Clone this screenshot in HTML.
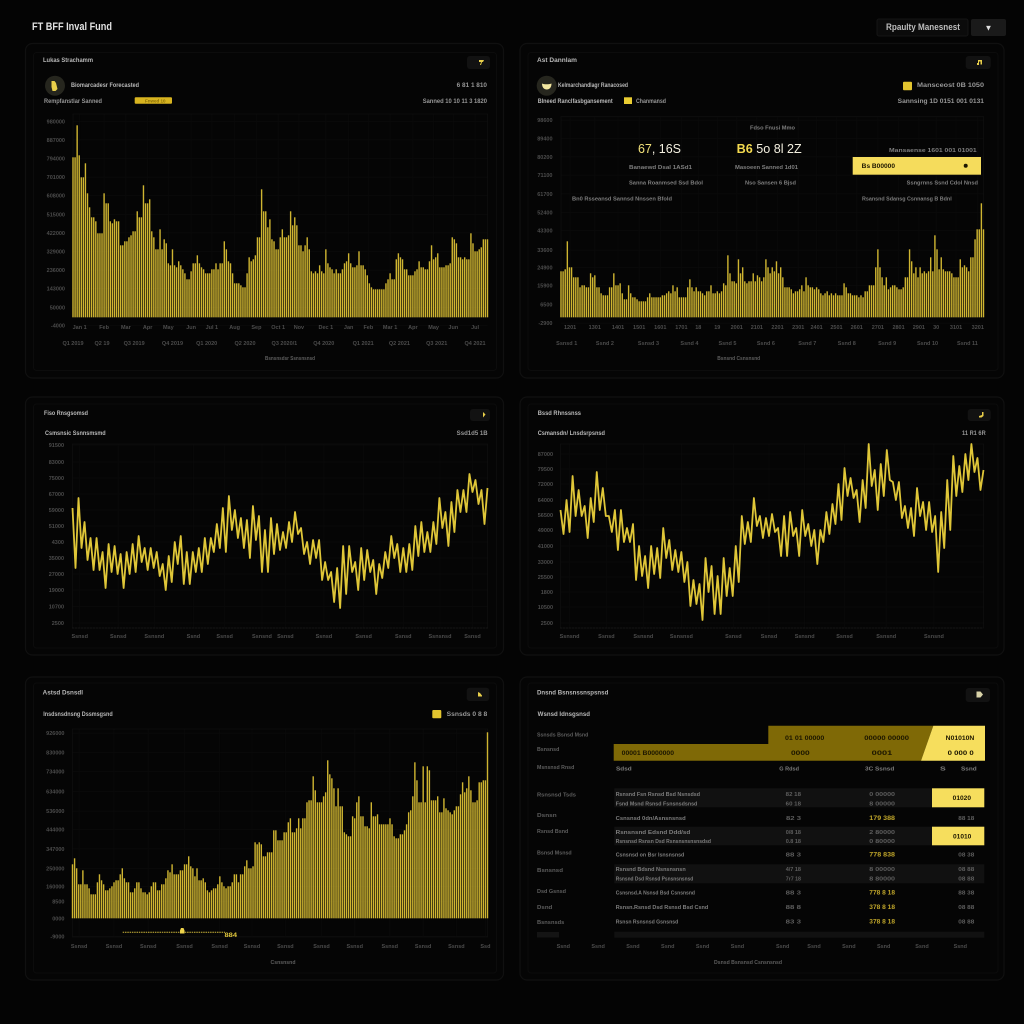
<!DOCTYPE html>
<html lang="en">
<head>
<meta charset="utf-8">
<title>FT BFF Inval Fund dashboard</title>
<style>
html,body{margin:0;padding:0;background:#040404;width:1024px;height:1024px;overflow:hidden}
svg{display:block;font-family:"Liberation Sans",sans-serif}
.panel-outer{fill:#050505;stroke:#101010;stroke-width:1.2}
.panel-inner{fill:#050505;stroke:#0c0c0c;stroke-width:1}
.btn{fill:#121212}
.t{font-size:6px;font-weight:700;fill:#b8b8b8}
.s{font-size:6px;font-weight:700;fill:#969696}
.d{font-size:5.5px;font-weight:700;fill:#7e7e7e}
.k{font-size:6px;font-weight:700;fill:#1c1600}
.y{font-size:6px;font-weight:700;fill:#bfa52a}
.ax{font-size:5.5px;font-weight:700;fill:#5e5e5e}
.tick{font-size:5.5px;fill:#4c4c4c;font-weight:700}
.gly{fill:#e9cf4a}
</style>
</head>
<body>
<svg id="dash" width="1024" height="1024" viewBox="0 0 1024 1024" xmlns="http://www.w3.org/2000/svg">
<rect width="1024" height="1024" fill="#040404"/>

<!-- header -->
<text x="32" y="30" font-size="11" font-weight="700" fill="#e2e2e2" textLength="80" lengthAdjust="spacingAndGlyphs">FT BFF Inval Fund</text>
<rect x="877" y="19" width="91" height="17" rx="2" fill="#0b0b0b" stroke="#151515"/>
<text x="886" y="30" font-size="9" font-weight="700" fill="#bdbdbd" textLength="74" lengthAdjust="spacingAndGlyphs">Rpaulty Manesnest</text>
<rect x="971" y="19" width="35" height="17" rx="2" fill="#1a1a1a"/>
<text x="988.5" y="30.5" font-size="8" text-anchor="middle" fill="#e0e0e0">▼</text>

<!-- panel frames -->
<g>
<rect class="panel-outer" x="25.5" y="43.5" width="478" height="334.5" rx="7"/>
<rect class="panel-inner" x="33.5" y="52.5" width="463" height="318" rx="3"/>
<rect class="panel-outer" x="520" y="43.5" width="484" height="334.5" rx="7"/>
<rect class="panel-inner" x="528" y="52.5" width="470" height="318" rx="3"/>
<rect class="panel-outer" x="25.5" y="397" width="478" height="258" rx="7"/>
<rect class="panel-inner" x="33.5" y="404" width="463" height="244" rx="3"/>
<rect class="panel-outer" x="520" y="397" width="484" height="258" rx="7"/>
<rect class="panel-inner" x="528" y="404" width="470" height="244" rx="3"/>
<rect class="panel-outer" x="25.5" y="677" width="478" height="303" rx="7"/>
<rect class="panel-inner" x="33.5" y="683" width="463" height="290" rx="3"/>
<rect class="panel-outer" x="520" y="677" width="484" height="303" rx="7"/>
<rect class="panel-inner" x="528" y="683" width="470" height="290" rx="3"/>
</g>

<!-- chart layers -->
<g id="chart-1"></g>
<g id="chart-2"></g>
<g id="chart-3"></g>
<g id="chart-4"></g>
<g id="chart-5"></g>
<text class="ax" x="290" y="360" text-anchor="middle" textLength="50" lengthAdjust="spacingAndGlyphs">Bsnsnsdsr Ssnsnsnsd</text>
<text class="ax" x="738.700" y="360" text-anchor="middle" textLength="43" lengthAdjust="spacingAndGlyphs">Bsnsnd Csnsnsnd</text>
<text class="ax" x="283" y="964" text-anchor="middle" textLength="25" lengthAdjust="spacingAndGlyphs">Csnsnsnd</text>

<!-- panel 1 chrome -->
<text class="t" x="43" y="62" textLength="50" lengthAdjust="spacingAndGlyphs">Lukas Strachamm</text>
<rect class="btn" x="467" y="56" width="23" height="13" rx="3"/>
<path class="gly" d="M479 60h5l-1 2h-1l-1 3h-1l1-3h-2z"/>
<circle cx="55" cy="85.7" r="10" fill="#26261e"/>
<path class="gly" d="M51.500 81h3l1.500 2 1.500 6-2 2h-3l-1-4z"/>
<text class="t" x="71" y="87" textLength="68" lengthAdjust="spacingAndGlyphs">Biomarcadesr Forecasted</text>
<text class="s" x="456.700" y="87" textLength="30.300" lengthAdjust="spacingAndGlyphs">6 81 1 810</text>
<text class="s" x="44" y="103" textLength="58" lengthAdjust="spacingAndGlyphs">Rempfanstlar Sanned</text>
<rect x="134.700" y="97.300" width="37.300" height="6.500" rx="1" fill="#d8b420"/>
<text x="145" y="102.500" font-size="4.500" font-weight="700" fill="#8a6f08">Fnwed 10</text>
<text class="s" x="422.700" y="103" textLength="64.300" lengthAdjust="spacingAndGlyphs">Sanned 10 10 11 3 1820</text>

<!-- panel 2 chrome -->
<text class="t" x="537" y="62" textLength="40" lengthAdjust="spacingAndGlyphs">Ast Dannlam</text>
<rect class="btn" x="965.700" y="56" width="25" height="13" rx="3"/>
<path class="gly" d="M978 60h4v4.500h-1.500v-3h-1.500v3.500h-2v-2h1z"/>
<circle cx="546.700" cy="85.700" r="10" fill="#26261e"/>
<path d="M542 83.500c2 1 7 1 9.500 0 0 4-2 6-4.700 6s-4.800-2-4.800-6z" fill="#f3e7a0"/>
<text class="t" x="558" y="87" textLength="70" lengthAdjust="spacingAndGlyphs">Kelmarchandlagr Ranacosed</text>
<rect x="903" y="81.700" width="9" height="8.500" rx="1" fill="#e3c52f"/>
<text class="s" x="917" y="87" textLength="67" lengthAdjust="spacingAndGlyphs">Mansceost 0B 1050</text>
<text class="t" x="537.700" y="103" textLength="75" lengthAdjust="spacingAndGlyphs">Blneed Ranclfasbgansement</text>
<rect x="624" y="97.300" width="8" height="6.700" fill="#eacd32"/>
<text class="s" x="636" y="103" textLength="30" lengthAdjust="spacingAndGlyphs">Chanmansd</text>
<text class="s" x="897.700" y="103" textLength="86.300" lengthAdjust="spacingAndGlyphs">Sannsing 1D 0151 001 0131</text>

<!-- panel 2 overlay text -->
<g>
<text class="d" x="750" y="129.500" textLength="45" lengthAdjust="spacingAndGlyphs">Fdso Fnusi Mmo</text>
<text x="638" y="153" font-size="12.500" font-weight="400" fill="#f4f0e0" textLength="43" lengthAdjust="spacingAndGlyphs"><tspan fill="#f3e27a">67</tspan>, 16S</text>
<text x="736.700" y="153" font-size="12.500" font-weight="400" fill="#f4f0e0" textLength="65" lengthAdjust="spacingAndGlyphs"><tspan fill="#f3d94f" font-weight="700">B6</tspan> 5o 8l 2Z</text>
<text class="d" x="889" y="152" textLength="87.700" lengthAdjust="spacingAndGlyphs">Mansaense 1601 001 01001</text>
<text class="d" x="629" y="169" textLength="63" lengthAdjust="spacingAndGlyphs">Banaewd Dsal 1ASd1</text>
<text class="d" x="735" y="169" textLength="63" lengthAdjust="spacingAndGlyphs">Masoeen Sanned 1d01</text>
<rect x="852.700" y="157" width="128.300" height="17.700" fill="#f5dc5c"/>
<text class="k" x="861.700" y="168" textLength="33.300" lengthAdjust="spacingAndGlyphs">Bs B00000</text>
<circle cx="965.700" cy="165.700" r="2" fill="#1c1600"/>
<text class="d" x="629" y="184.500" textLength="74" lengthAdjust="spacingAndGlyphs">Sanna Roanmsed Ssd Bdol</text>
<text class="d" x="745" y="184.500" textLength="51" lengthAdjust="spacingAndGlyphs">Nso Sansen 6 Bjsd</text>
<text class="d" x="906.700" y="184.500" textLength="71.300" lengthAdjust="spacingAndGlyphs">Ssngrnns Ssnd Cdol Nnsd</text>
<text class="d" x="572" y="200.500" textLength="100" lengthAdjust="spacingAndGlyphs">Bn0 Rsseansd Sannsd Nnssen Bfold</text>
<text class="d" x="862" y="200.500" textLength="89.700" lengthAdjust="spacingAndGlyphs">Rsansnd Sdansg Csnnansg B Bdnl</text>
</g>

<!-- panel 3 chrome -->
<text class="t" x="44" y="415" textLength="44" lengthAdjust="spacingAndGlyphs">Fiso Rnsgsomsd</text>
<rect class="btn" x="470" y="409" width="20" height="12" rx="3"/>
<path class="gly" d="M483 412l2.500 2.500-2.500 3z"/>
<text class="t" x="45" y="435" textLength="60.700" lengthAdjust="spacingAndGlyphs">Csmsnsic Ssnnsmsmd</text>
<text class="s" x="456.700" y="435" textLength="31" lengthAdjust="spacingAndGlyphs">Ssd1d5 1B</text>

<!-- panel 4 chrome -->
<text class="t" x="537.700" y="415" textLength="43.300" lengthAdjust="spacingAndGlyphs">Bssd Rhnssnss</text>
<rect class="btn" x="967.700" y="409" width="23" height="12" rx="3"/>
<path class="gly" d="M979 416l3-1v-3h1.500v4l-2 1.500h-2.500z"/>
<text class="t" x="537.700" y="435" textLength="67.300" lengthAdjust="spacingAndGlyphs">Csmansdn/ Lnsdsrpsnsd</text>
<text class="s" x="962" y="435" textLength="23.700" lengthAdjust="spacingAndGlyphs">11 R1 6R</text>

<!-- panel 5 chrome -->
<text class="t" x="42.700" y="694.500" textLength="40.300" lengthAdjust="spacingAndGlyphs">Astsd Dsnsdl</text>
<rect class="btn" x="466.700" y="687.700" width="22.600" height="13.300" rx="3"/>
<path class="gly" d="M478 692l2 1 2 2.500v1h-4z"/>
<text class="t" x="43.300" y="716" textLength="69.400" lengthAdjust="spacingAndGlyphs">Insdsnsdnsng Dssmsgsnd</text>
<rect x="432.300" y="710" width="9" height="8.300" rx="1" fill="#e3c52f"/>
<text class="s" x="446.700" y="716" textLength="40.600" lengthAdjust="spacingAndGlyphs">Ssnsds 0 8 8</text>
<g>
<line x1="122.700" x2="225" y1="932.300" y2="932.300" stroke="#cdb63a" stroke-width="1" stroke-dasharray="1.500 .8"/>
<path d="M180 933.500h4.500v-3l-1-2.500h-2.500l-1 2.500z" fill="#eed34b"/>
<text x="224.500" y="937" font-size="6" font-weight="700" fill="#e0c63c" textLength="12.500" lengthAdjust="spacingAndGlyphs">884</text>
</g>

<!-- panel 6 table -->
<g>
<text class="t" x="537" y="694.500" textLength="71.300" lengthAdjust="spacingAndGlyphs">Dnsnd Bsnsnssnspsnsd</text>
<rect class="btn" x="965.700" y="688" width="24.300" height="14" rx="3"/>
<path d="M976.500 691.500h4l2.500 3-2.500 3h-4z" fill="#d9d3a8"/>
<text class="t" x="537.700" y="716" textLength="52.300" lengthAdjust="spacingAndGlyphs">Wsnsd Idnsgsnsd</text>

<polygon points="613.700,744 768.300,744 768.300,725.700 933.300,725.700 921,760.700 613.700,760.700" fill="#7f6906"/>
<polygon points="933.300,725.700 985,725.700 985,760.700 921,760.700" fill="#f6de5d"/>

<rect x="614.300" y="788.300" width="317.700" height="19" fill="#111111"/>
<rect x="614.300" y="826.700" width="317.700" height="18.600" fill="#111111"/>
<rect x="614.300" y="864.300" width="370" height="19" fill="#111111"/>
<rect x="614.300" y="931.700" width="370" height="6" fill="#111111"/>
<rect x="932" y="788.300" width="52.300" height="19" fill="#f6de5d"/>
<rect x="932" y="826.700" width="52.300" height="18.600" fill="#f6de5d"/>
<rect x="537" y="932" width="22" height="5.500" fill="#141414"/>

<g>
<text class="k" x="785" y="740" textLength="39.300" lengthAdjust="spacingAndGlyphs">01 01 00000</text>
<text class="k" x="864.300" y="740" textLength="44.700" lengthAdjust="spacingAndGlyphs">00000 00000</text>
<text class="k" x="945.700" y="740" textLength="28.600" lengthAdjust="spacingAndGlyphs">N01010N</text>
<text class="k" x="621.700" y="755" textLength="52.300" lengthAdjust="spacingAndGlyphs">00001 B0000000</text>
<text class="k" x="791" y="755" textLength="18.700" lengthAdjust="spacingAndGlyphs">0000</text>
<text class="k" x="871.700" y="755" textLength="20.600" lengthAdjust="spacingAndGlyphs">0001</text>
<text class="k" x="947.700" y="755" textLength="26" lengthAdjust="spacingAndGlyphs">0 000 0</text>
<text class="d" x="616" y="770.500" textLength="15.700" lengthAdjust="spacingAndGlyphs">Sdsd</text>
<text class="d" x="779.300" y="770.500" textLength="19.700" lengthAdjust="spacingAndGlyphs">G Rdsd</text>
<text class="d" x="865" y="770.500" textLength="29.300" lengthAdjust="spacingAndGlyphs">3C Ssnsd</text>
<text class="d" x="940" y="770.500" textLength="5.700" lengthAdjust="spacingAndGlyphs">S</text>
<text class="d" x="961" y="770.500" textLength="15.700" lengthAdjust="spacingAndGlyphs">Ssnd</text>
</g>

<g>
<text class="ax" x="537" y="736.500" textLength="51.300" lengthAdjust="spacingAndGlyphs">Ssnsds Bsnsd Msnd</text>
<text class="ax" x="537" y="751" textLength="22.300" lengthAdjust="spacingAndGlyphs">Bsnsnsd</text>
<text class="ax" x="537" y="769" textLength="37.300" lengthAdjust="spacingAndGlyphs">Msnsnsd Rnsd</text>
<text class="ax" x="537" y="796.500" textLength="39" lengthAdjust="spacingAndGlyphs">Rsnsnsd Tsds</text>
<text class="ax" x="537" y="817" textLength="19.700" lengthAdjust="spacingAndGlyphs">Dsnsn</text>
<text class="ax" x="537" y="833" textLength="31.300" lengthAdjust="spacingAndGlyphs">Rsnsd Bsnd</text>
<text class="ax" x="537" y="854.500" textLength="34.700" lengthAdjust="spacingAndGlyphs">Bsnsd Msnsd</text>
<text class="ax" x="537" y="872" textLength="26" lengthAdjust="spacingAndGlyphs">Bsnsnsd</text>
<text class="ax" x="537" y="893" textLength="29" lengthAdjust="spacingAndGlyphs">Dsd Gsnsd</text>
<text class="ax" x="537" y="908.800" textLength="15.300" lengthAdjust="spacingAndGlyphs">Dsnd</text>
<text class="ax" x="537" y="924" textLength="27.300" lengthAdjust="spacingAndGlyphs">Bsnsnsds</text>
</g>

<g>
<text class="d" x="615.700" y="796" textLength="84.300" lengthAdjust="spacingAndGlyphs">Rsnsnd Fsn Rsnsd Bsd Nsnsdsd</text>
<text class="ax" x="785.700" y="796" textLength="15.300" lengthAdjust="spacingAndGlyphs">82 18</text>
<text class="ax" x="869.300" y="796" textLength="25.700" lengthAdjust="spacingAndGlyphs">0 00000</text>
<text class="k" x="952.700" y="800" textLength="18.300" lengthAdjust="spacingAndGlyphs">01020</text>

<text class="d" x="615.700" y="805.500" textLength="81.600" lengthAdjust="spacingAndGlyphs">Fsnd Msnd Rsnsd Fsnsnsdsnsd</text>
<text class="ax" x="785.700" y="805.500" textLength="15.300" lengthAdjust="spacingAndGlyphs">60 18</text>
<text class="ax" x="869.300" y="805.500" textLength="25.700" lengthAdjust="spacingAndGlyphs">8 00000</text>

<text class="d" x="615.700" y="820" textLength="70" lengthAdjust="spacingAndGlyphs">Csnsnsd 0dn/Asnsnsnsd</text>
<text class="ax" x="786" y="820" textLength="15" lengthAdjust="spacingAndGlyphs">82 3</text>
<text class="y" x="869.300" y="820" textLength="25.700" lengthAdjust="spacingAndGlyphs">179 388</text>
<text class="ax" x="958.300" y="820" textLength="16" lengthAdjust="spacingAndGlyphs">88 18</text>

<text class="d" x="615.700" y="834" textLength="74.600" lengthAdjust="spacingAndGlyphs">Rsnsnsnd Edsnd Ddd/sd</text>
<text class="ax" x="785.700" y="834" textLength="15.300" lengthAdjust="spacingAndGlyphs">0/8 18</text>
<text class="ax" x="869.300" y="834" textLength="25.700" lengthAdjust="spacingAndGlyphs">2 80000</text>
<text class="k" x="953" y="838.500" textLength="18.300" lengthAdjust="spacingAndGlyphs">01010</text>

<text class="d" x="615.700" y="843.200" textLength="95.300" lengthAdjust="spacingAndGlyphs">Rsnsnsd Rsnsn Dsd Rsnsnsnsnsnsdsd</text>
<text class="ax" x="785.700" y="843.200" textLength="15.300" lengthAdjust="spacingAndGlyphs">0.8 18</text>
<text class="ax" x="869.300" y="843.200" textLength="25.700" lengthAdjust="spacingAndGlyphs">0 80000</text>

<text class="d" x="615.700" y="856.500" textLength="68.600" lengthAdjust="spacingAndGlyphs">Csnsnsd on Bsr Isnsnsnsd</text>
<text class="ax" x="785.700" y="856.500" textLength="15.300" lengthAdjust="spacingAndGlyphs">88 3</text>
<text class="y" x="869.300" y="856.500" textLength="25.700" lengthAdjust="spacingAndGlyphs">778 838</text>
<text class="ax" x="958.300" y="856.500" textLength="16" lengthAdjust="spacingAndGlyphs">08 38</text>

<text class="d" x="615.700" y="871" textLength="70" lengthAdjust="spacingAndGlyphs">Rsnsnd Bdsnd Nsnsnsnsn</text>
<text class="ax" x="785.700" y="871" textLength="15.300" lengthAdjust="spacingAndGlyphs">4/7 18</text>
<text class="ax" x="869.300" y="871" textLength="25.700" lengthAdjust="spacingAndGlyphs">8 00000</text>
<text class="ax" x="958.300" y="871" textLength="16" lengthAdjust="spacingAndGlyphs">08 88</text>

<text class="d" x="615.700" y="880.500" textLength="77.600" lengthAdjust="spacingAndGlyphs">Rsnsnd Dsd Rsnsd Psnsnsnsnsd</text>
<text class="ax" x="785.700" y="880.500" textLength="15.300" lengthAdjust="spacingAndGlyphs">7r7 18</text>
<text class="ax" x="869.300" y="880.500" textLength="25.700" lengthAdjust="spacingAndGlyphs">8 80000</text>
<text class="ax" x="958.300" y="880.500" textLength="16" lengthAdjust="spacingAndGlyphs">08 88</text>

<text class="d" x="615.700" y="894.500" textLength="79.300" lengthAdjust="spacingAndGlyphs">Csnsnsd.A Nsnsd Bsd Csnsnsnd</text>
<text class="ax" x="785.700" y="894.500" textLength="15.300" lengthAdjust="spacingAndGlyphs">88 3</text>
<text class="y" x="869.300" y="894.500" textLength="25.700" lengthAdjust="spacingAndGlyphs">778 8 18</text>
<text class="ax" x="958.300" y="894.500" textLength="16" lengthAdjust="spacingAndGlyphs">88 38</text>

<text class="d" x="615.700" y="909" textLength="92.600" lengthAdjust="spacingAndGlyphs">Rsnsn.Rsnsd Dsd Rsnsd Bsd Csnd</text>
<text class="ax" x="785.700" y="909" textLength="15.300" lengthAdjust="spacingAndGlyphs">88 8</text>
<text class="y" x="869.300" y="909" textLength="25.700" lengthAdjust="spacingAndGlyphs">378 8 18</text>
<text class="ax" x="958.300" y="909" textLength="16" lengthAdjust="spacingAndGlyphs">08 88</text>

<text class="d" x="615.700" y="923.500" textLength="62.600" lengthAdjust="spacingAndGlyphs">Rsnsn Rsnsnsd Gsnsnsd</text>
<text class="ax" x="785.700" y="923.500" textLength="15.300" lengthAdjust="spacingAndGlyphs">83 3</text>
<text class="y" x="869.300" y="923.500" textLength="25.700" lengthAdjust="spacingAndGlyphs">378 8 18</text>
<text class="ax" x="958.300" y="923.500" textLength="16" lengthAdjust="spacingAndGlyphs">08 88</text>
</g>

<g id="table-axis"></g>
<text class="ax" x="748" y="964" text-anchor="middle" textLength="68" lengthAdjust="spacingAndGlyphs">Dsnsd Bsnsnsd Csnsnsnsd</text>
</g>
</svg>

<script>
// ---------- chart 1 ----------
const chart1Values = [
80,80,96,81,70,70,77,62,55,50,
50,48,42,42,42,62,57,57,48,47,
49,48,48,36,36,38,38,40,41,43,
43,53,50,50,66,57,57,59,43,40,
34,34,44,34,39,37,27,26,34,26,
25,28,26,24,22,19,19,23,27,27,
31,27,25,24,22,22,22,24,24,27,
24,27,27,38,34,28,27,22,17,17,
17,16,15,15,22,30,28,29,31,40,
40,64,53,53,45,49,39,38,34,34,
40,44,40,40,41,53,46,50,46,36,
36,33,36,40,34,23,22,23,22,26,
23,22,34,27,25,24,22,24,22,22,
24,27,28,32,27,25,25,26,33,26,
26,24,21,17,15,14,14,14,14,14,
14,17,19,22,19,19,29,32,30,29,
24,24,21,21,21,23,24,28,25,25,
24,24,28,36,29,30,32,25,25,25,
26,26,27,40,39,37,30,30,29,30,
29,29,42,37,33,33,34,35,39,39,
39];
const chart1YTicks = [98,88.7,79.4,70.1,60.8,51.5,42.2,32.9,23.6,14.3,5,-4];
const chart1YLabels = ["980000","887000","794000","701000","608000","515000","422000","329000","236000","143000","50000","-4000"];
const chart1XTicks = [3.2,15,25.5,36,46,57,67,78,88.5,99,109,122,133,142.5,153,164,174,183.5,194];
const chart1XLabels = ["Jan 1","Feb","Mar","Apr","May","Jun","Jul 1","Aug","Sep","Oct 1","Nov","Dec 1","Jan","Feb","Mar 1","Apr","May","Jun","Jul"];
const chart1XMajorTicks = [0,14,29.5,48,64.5,83,102,121,140,157.5,175.5,194];
const chart1XMajorLabels = ["Q1 2019","Q2 19","Q3 2019","Q4 2019","Q1 2020","Q2 2020","Q3 2020/1","Q4 2020","Q1 2021","Q2 2021","Q3 2021","Q4 2021"];

// ---------- chart 2 ----------
const chart2Values = [
23,23,24,38,25,25,20,20,20,15,
16,16,15,15,22,20,21,15,15,12,
11,11,11,15,15,22,16,16,17,12,
9,9,16,12,10,10,9,8,8,8,
8,10,12,10,10,10,10,10,11,11,
12,13,12,16,13,15,10,10,10,10,
15,19,15,13,15,13,13,12,11,13,
13,16,12,12,13,12,13,17,16,31,
22,18,18,17,29,22,25,18,17,18,
18,22,18,21,20,18,20,29,25,22,
25,23,28,22,25,20,15,15,15,14,
12,13,13,14,16,13,20,16,15,15,
14,15,14,12,11,12,13,11,12,11,
12,11,11,11,17,15,12,12,11,11,
11,10,11,10,13,13,16,16,16,25,
34,25,20,16,20,14,15,16,16,15,
14,14,15,20,20,34,28,22,25,20,
25,22,23,22,23,30,23,41,34,24,
30,24,23,23,23,22,20,20,20,29,
25,26,25,23,30,30,39,44,44,57,
44];
const chart2YTicks = [98.6,89.4,80.2,71.1,61.7,52.4,43.3,33.6,24.9,15.9,6.5,-2.9];
const chart2YLabels = ["98600","89400","80200","71100","61700","52400","43300","33600","24900","15900","6500","-2900"];
const chart2XTicks = [4.3,16,27,37,47,57,65,74,83.2,92.7,102.5,112.3,121,130.4,140,150,159.8,169.4,177.6,187,197.3];
const chart2XLabels = ["1201","1301","1401","1501","1601","1701","18","19","2001","2101","2201","2301","2401","2501","2601","2701","2801","2901","30","3101","3201"];
const chart2XMajorTicks = [2.7,20.8,41.4,60.8,78.8,97,116.6,135.3,154.4,173.5,192.4];
const chart2XMajorLabels = ["Ssnsd 1","Ssnd 2","Ssnsd 3","Ssnd 4","Ssnd 5","Ssnd 6","Ssnd 7","Ssnd 8","Ssnd 9","Ssnd 10","Ssnd 11"];

// ---------- chart 3 ----------
const chart3Highs = [60,65,53,45,45,38,42,41,37,38,42,46,40,40,38,32,36,43,46,38,38,40,45,45,52,60,66,59,55,54,61,56,49,55,52,48,53,58,50,43,44,44,33,28,30,41,41,33,40,39,34,32,38,46,42,40,42,51,53,48,53,65,58,63,69,69,77,74,69,70];
const chart3Lows = [30,40,34,29,29,20,28,27,20,27,28,33,29,30,26,19,23,32,22,22,28,28,32,38,40,38,49,45,40,35,44,28,28,37,39,40,43,47,37,32,35,24,24,13,10,17,28,19,24,28,17,25,30,35,28,28,29,36,38,38,42,50,41,48,58,58,68,62,52,60];
const chart3YTicks = [91.5,83,75,67,59,51,43,35,27,19,10.7,2.500];
const chart3YLabels = ["91500","83000","75000","67000","59000","51000","4300","35000","27000","19000","10700","2500"];
const chart3XTicks = [1.2,7.6,13.6,20.1,25.3,31.5,35.4,41.8,48.4,55,61.1,66.5];
const chart3XLabels = ["Ssnsd","Ssnsd","Ssnsnd","Ssnd","Ssnsd","Ssnsnd","Ssnsd","Ssnsd","Ssnsd","Ssnsd","Ssnsnsd","Ssnsd"];

// ---------- chart 4 ----------
const chart4Highs = [59,64,76,69,61,65,78,70,56,59,59,50,52,41,36,41,40,50,44,39,38,33,24,22,35,31,26,35,30,41,56,53,65,56,55,57,50,56,58,50,59,52,49,49,58,62,72,80,75,69,74,92,79,82,89,73,73,61,60,70,63,63,56,58,74,86,81,87,92,85,79];
const chart4Lows = [47,48,56,56,45,53,59,56,48,39,43,43,24,26,20,27,25,35,29,28,23,11,12,4,18,7,7,16,16,23,42,43,51,45,46,48,36,36,46,36,46,41,32,43,47,52,54,66,65,53,60,71,59,66,74,64,55,50,46,56,49,48,28,40,49,66,68,74,78,69,52];
const chart4YTicks = [87,79.5,72,64,56.5,49,41,33,25.5,18,10.5,2.5];
const chart4YLabels = ["87000","79500","72000","64000","56500","49000","41000","33000","25500","1800","10500","2500"];
const chart4XTicks = [1.5,7.6,13.7,20,28.6,34.5,40.4,47,53.9,61.8];
const chart4XLabels = ["Ssnsnd","Ssnsd","Ssnsnd","Ssnsnsd","Ssnsd","Ssnsd","Ssnsnd","Ssnsd","Ssnsnd","Ssnsnd"];

// ---------- chart 5 ----------
const chart5Values = [
27,30,25,17,17,24,17,17,15,12,
12,12,18,22,19,17,14,14,15,16,
18,19,19,22,25,20,18,18,13,13,
15,18,18,15,13,13,12,13,16,18,
18,14,14,17,17,20,24,23,27,22,
22,22,24,24,27,27,31,26,25,21,
25,19,19,20,18,14,13,14,15,15,
17,21,18,16,15,16,16,18,22,22,
18,22,22,26,29,25,25,26,38,37,
38,37,31,31,33,33,33,44,44,39,
39,39,43,43,48,50,43,43,45,50,
45,50,50,58,59,59,71,64,58,58,
58,61,63,79,72,70,65,56,65,56,
56,43,42,41,41,51,50,58,61,51,
51,46,46,45,58,51,51,52,47,47,
47,47,47,50,47,41,40,40,42,42,
44,47,53,54,61,78,69,58,58,76,
58,76,74,59,59,59,61,53,53,60,
55,54,53,52,54,56,56,62,68,63,
65,71,64,58,58,59,68,68,69,69,
93];
const chart5YTicks = [92.6,83,73.4,63.4,53.6,44.4,34.7,25,16,8.5,0,-9];
const chart5YLabels = ["926000","830000","734000","634000","536000","444000","347000","250000","160000","8500","0000","-9000"];
const chart5XTicks = [3.2,20,36.5,54,70.9,86.5,102.6,120,136,152.9,169,185,199];
const chart5XLabels = ["Ssnsd","Ssnsd","Ssnsd","Ssnsd","Ssnsd","Ssnsd","Ssnsd","Ssnsd","Ssnsd","Ssnsd","Ssnsd","Ssnsd","Ssd"];

// ---------- table axis ----------
const tableAxisLabels = ["Ssnd","Ssnd","Ssnd","Ssnd","Ssnd","Ssnd","Ssnd","Ssnd","Ssnd","Ssnd","Ssnd","Ssnd"];
const tableAxisTicks = [0,1,2,3,4,5,6.3,7.2,8.2,9.2,10.3,11.4];

const NS = 'http://www.w3.org/2000/svg';

function make(tag, parent, attrs, text) {
  const node = document.createElementNS(NS, tag);
  for (const key in attrs) node.setAttribute(key, attrs[key]);
  if (text !== undefined) node.textContent = text;
  parent.appendChild(node);
  return node;
}

function linear(d0, d1, r0, r1) {
  return function (v) { return r0 + (v - d0) * (r1 - r0) / (d1 - d0); };
}

function drawFrame(root, cfg) {
  const y = linear(0, 100, cfg.yBase, cfg.yBase - 200);
  const x = linear(0, cfg.xDomain, cfg.x0, cfg.x1);
  cfg.yTicks.forEach(function (tick, i) {
    const gridLine = make('line', root, { x1: cfg.x0, x2: cfg.x1, y1: y(tick), y2: y(tick), stroke: '#0b0b0b', 'stroke-width': 0.8 });
    
    
    const label = make('text', root, { class: 'tick', x: cfg.yLabelRight, y: y(tick) + 2, 'text-anchor': 'end' }, cfg.yLabels[i]);
    
    
  });
  cfg.xTicks.forEach(function (tick, i) {
    const gridLine = make('line', root, { x1: x(tick), x2: x(tick), y1: cfg.plotTop, y2: cfg.plotBottom, stroke: '#0a0a0a', 'stroke-width': 0.8 });
    
    
    const label = make('text', root, { class: 'tick', x: x(tick), y: cfg.xLabelY, 'text-anchor': 'middle' }, cfg.xLabels[i]);
    
    
  });
  if (cfg.xMajorTicks) {
    cfg.xMajorTicks.forEach(function (tick, i) {
      const label = make('text', root, { class: 'tick', x: x(tick), y: cfg.xMajorY, 'text-anchor': 'middle' }, cfg.xMajorLabels[i]);
      
      
    });
  }
  const frame = make('path', root, { d: 'M' + cfg.x0 + ' ' + cfg.plotTop + 'H' + cfg.x1 + 'V' + cfg.plotBottom + 'H' + cfg.x0 + 'Z', fill: 'none', stroke: '#0f0f0f', 'stroke-width': 0.8 });
  
  
  return { x: x, y: y };
}

function drawBars(id, values, cfg) {
  const root = document.getElementById(id);
  cfg.xDomain = values.length - 1;
  const s = drawFrame(root, cfg);
  values.forEach(function (v, i) {
    const top = s.y(v);
    const bar = make('rect', root, { x: s.x(i) - 0.7, y: top, width: 1.4, height: s.y(0) - top, fill: '#cfb531' });
    
    
  });
}

function drawZigzag(id, highs, lows, cfg) {
  const root = document.getElementById(id);
  cfg.xDomain = highs.length - 1;
  const s = drawFrame(root, cfg);
  const axisLine = make('line', root, { x1: cfg.x0, x2: cfg.x1, y1: cfg.plotBottom, y2: cfg.plotBottom, stroke: '#262626', 'stroke-width': 0.8, 'stroke-dasharray': '1 2' });
  
  
  const pts = [];
  highs.forEach(function (h, i) {
    pts.push(s.x(i).toFixed(2) + ',' + s.y(h).toFixed(2));
    if (i < highs.length - 1) pts.push(s.x(i + 0.5).toFixed(2) + ',' + s.y(lows[i]).toFixed(2));
  });
  const line = make('polyline', root, { points: pts.join(' '), fill: 'none', stroke: '#dfc638', 'stroke-width': 1.8, 'stroke-linejoin': 'round' });
  
  
}

drawBars('chart-1', chart1Values, {
  x0: 73, x1: 487.5, yBase: 317.3, plotTop: 114, plotBottom: 317.3, yLabelRight: 65,
  yTicks: chart1YTicks, yLabels: chart1YLabels, xTicks: chart1XTicks, xLabels: chart1XLabels,
  xLabelY: 329, xMajorTicks: chart1XMajorTicks, xMajorLabels: chart1XMajorLabels, xMajorY: 345
});
drawBars('chart-2', chart2Values, {
  x0: 561, x1: 983.5, yBase: 317.3, plotTop: 116.7, plotBottom: 317.3, yLabelRight: 552.5,
  yTicks: chart2YTicks, yLabels: chart2YLabels, xTicks: chart2XTicks, xLabels: chart2XLabels,
  xLabelY: 329, xMajorTicks: chart2XMajorTicks, xMajorLabels: chart2XMajorLabels, xMajorY: 345
});
drawZigzag('chart-3', chart3Highs, chart3Lows, {
  x0: 72.5, x1: 487.5, yBase: 628, plotTop: 444, plotBottom: 628, yLabelRight: 64,
  yTicks: chart3YTicks, yLabels: chart3YLabels, xTicks: chart3XTicks, xLabels: chart3XLabels, xLabelY: 638
});
drawZigzag('chart-4', chart4Highs, chart4Lows, {
  x0: 560.5, x1: 983.5, yBase: 628, plotTop: 444, plotBottom: 628, yLabelRight: 553,
  yTicks: chart4YTicks, yLabels: chart4YLabels, xTicks: chart4XTicks, xLabels: chart4XLabels, xLabelY: 638
});
drawBars('chart-5', chart5Values, {
  x0: 72.5, x1: 487.5, yBase: 918.3, plotTop: 729, plotBottom: 937, yLabelRight: 64.5,
  yTicks: chart5YTicks, yLabels: chart5YLabels, xTicks: chart5XTicks, xLabels: chart5XLabels, xLabelY: 948
});

(function () {
  const root = document.getElementById('table-axis');
  const x = linear(0, 11.4, 563.3, 960.3);
  tableAxisTicks.forEach(function (tick, i) {
    const label = make('text', root, { class: 'tick', x: x(tick), y: 948, 'text-anchor': 'middle' }, tableAxisLabels[i]);
    
    
  });
})();
</script>
</body>
</html>
